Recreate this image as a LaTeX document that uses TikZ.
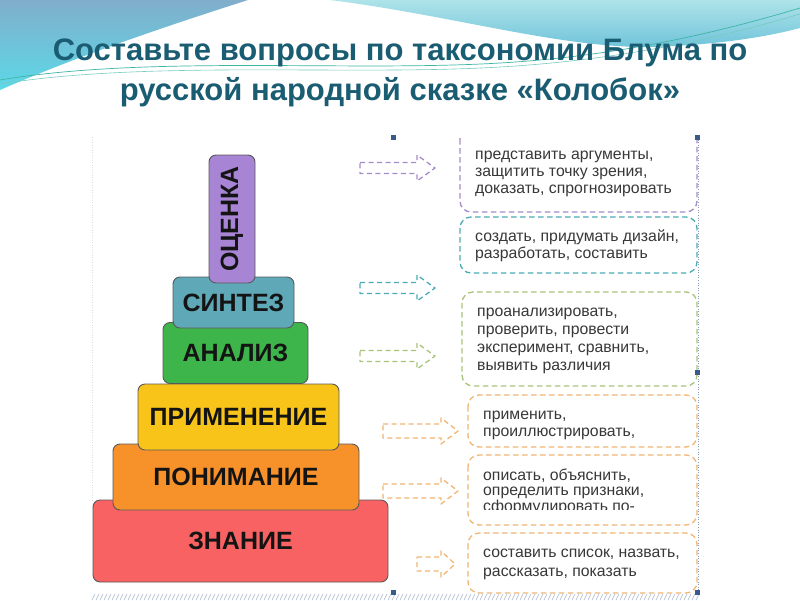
\documentclass[tikz,border=0pt]{standalone}
\usepackage{fontspec}
\setmainfont{Liberation Sans}
\begin{document}
\begin{tikzpicture}[x=1pt,y=-1pt,
  block/.style={draw=black!65, line width=0.9pt, rounded corners=7pt, inner sep=0pt},
  blocklabel/.style={font=\bfseries\fontsize{25}{25}\selectfont, text=black!92},
  tbox/.style={dashed, dash pattern=on 5.5pt off 3.5pt, line width=1.3pt, rounded corners=11pt},
  ttext/.style={text=black!78, align=left, anchor=base west, inner sep=0pt},
  darrow/.style={dashed, dash pattern=on 5pt off 3.5pt, line width=1.3pt, line join=round}
]
\definecolor{titlec}{HTML}{1A5C72}
\definecolor{bgA}{HTML}{80AECB}
\definecolor{bgB}{HTML}{5CD9E8}
\definecolor{bgC}{HTML}{AEE3E9}
\definecolor{bgD}{HTML}{6FC3DA}
\definecolor{wline}{HTML}{3DB5A5}
\definecolor{cpur}{HTML}{A884D4}
\definecolor{cteal}{HTML}{5FA8B8}
\definecolor{cgreen}{HTML}{3DB54A}
\definecolor{cyel}{HTML}{F9C41A}
\definecolor{cora}{HTML}{F7922A}
\definecolor{cred}{HTML}{F96262}
\definecolor{dpur}{HTML}{A58BC8}
\definecolor{dteal}{HTML}{4AABB5}
\definecolor{dgreen}{HTML}{A9C47A}
\definecolor{dora}{HTML}{F0B672}
\definecolor{handle}{HTML}{3A5A8A}
\useasboundingbox (0,0) rectangle (800,600);
\fill[white] (0,0) rectangle (800,600);
% background waves
\shade[top color=bgA, bottom color=bgB] (0,0) -- (248,0) .. controls (170,25) and (80,55) .. (0,90) -- cycle;
\shade[top color=bgC, bottom color=bgD] (330,0) .. controls (450,15) and (560,48) .. (650,47) .. controls (720,45) and (770,36) .. (800,28) -- (800,0) -- cycle;
\draw[wline, line width=0.7pt] (0,80) .. controls (150,55) and (350,72) .. (500,63) .. controls (620,56) and (720,32) .. (800,8);
\draw[wline!70, line width=0.6pt] (0,84) .. controls (150,60) and (350,76) .. (500,67) .. controls (620,60) and (720,38) .. (800,14);
% title
\node[font=\bfseries\fontsize{31}{40}\selectfont, text=titlec, align=center] (title) at (400,73)
  {Составьте вопросы по таксономии Блума по\\русской народной сказке «Колобок»};
% image frame artifacts
\draw[handle!60, line width=0.6pt, dotted] (698,137) -- (698,592);
\draw[black!12, line width=0.5pt, dotted] (92,137) -- (92,500);
\foreach \i in {0,...,151} {\draw[handle!45, line width=0.5pt] (92+4*\i,600) -- (95+4*\i,594);}
% pyramid
\node[block, fill=cred, minimum width=295pt, minimum height=82pt] (znanie) at (240.5,541) {};
\node[blocklabel] at (znanie.center) {ЗНАНИЕ};
\node[block, fill=cora, minimum width=246pt, minimum height=66pt] (ponim) at (236,477) {};
\node[blocklabel] at (ponim.center) {ПОНИМАНИЕ};
\node[block, fill=cyel, minimum width=201pt, minimum height=66pt] (prim) at (238.5,417) {};
\node[blocklabel] at (prim.center) {ПРИМЕНЕНИЕ};
\node[block, fill=cgreen, minimum width=145pt, minimum height=61pt] (analiz) at (235.5,353) {};
\node[blocklabel] at (analiz.center) {АНАЛИЗ};
\node[block, fill=cteal, minimum width=121pt, minimum height=51pt] (sintez) at (233.5,302.5) {};
\node[blocklabel] at (sintez.center) {СИНТЕЗ};
\node[block, fill=cpur, minimum width=46pt, minimum height=128pt] (ocenka) at (232,219) {};
\node[blocklabel, rotate=90] at (ocenka.center) {ОЦЕНКА};
% arrows
\draw[darrow, dpur] (360,162.5) -- (417,162.5) -- (417,155) -- (435,168) -- (417,181) -- (417,173.5) -- (360,173.5) -- cycle;
\draw[darrow, dteal] (360,282.5) -- (417,282.5) -- (417,275) -- (435,288) -- (417,301) -- (417,293.5) -- (360,293.5) -- cycle;
\draw[darrow, dgreen] (360,350.5) -- (417,350.5) -- (417,343) -- (435,356) -- (417,369) -- (417,361.5) -- (360,361.5) -- cycle;
\draw[darrow, dora] (383,424) -- (441,424) -- (441,418) -- (458,431) -- (441,444) -- (441,438) -- (383,438) -- cycle;
\draw[darrow, dora] (383,484) -- (441,484) -- (441,478) -- (458,491) -- (441,504) -- (441,498) -- (383,498) -- cycle;
\draw[darrow, dora] (417,557) -- (441,557) -- (441,551) -- (455,564) -- (441,577) -- (441,571) -- (417,571) -- cycle;
% text boxes
\begin{scope}
\clip (440,138) rectangle (710,230);
\draw[tbox, dpur] (460,128) rectangle (697,212);
\end{scope}
\draw[tbox, dteal] (460,217) rectangle (697,273);
\draw[tbox, dgreen] (462,292) rectangle (697,386);
\draw[tbox, dora] (468,395) rectangle (697,447);
\draw[tbox, dora] (468,455) rectangle (697,525);
\draw[tbox, dora] (468,533) rectangle (697,593);
\node[ttext, font=\fontsize{15.8}{17}\selectfont] (t1) at (475,193) {представить аргументы,\\защитить точку зрения,\\доказать, спрогнозировать};
\node[ttext, font=\fontsize{15.8}{17}\selectfont] (t2) at (475,258) {создать, придумать дизайн,\\разработать, составить};
\node[ttext, font=\fontsize{15.8}{18.2}\selectfont] (t3) at (477,370.6) {проанализировать,\\проверить, провести\\эксперимент, сравнить,\\выявить различия};
\node[ttext, font=\fontsize{15.8}{17}\selectfont] (t4) at (483,436) {применить,\\проиллюстрировать,};
\begin{scope}
\clip (470,458) rectangle (690,509);
\node[ttext, font=\fontsize{15.8}{15.8}\selectfont] (t5) at (483,511.6) {описать, объяснить,\\определить признаки,\\сформулировать по-};
\end{scope}
\node[ttext, font=\fontsize{15.8}{19}\selectfont] (t6) at (483,576) {составить список, назвать,\\рассказать, показать};
% handles
\foreach \p in {(393,137),(697,137),(697,372),(393,592),(697,592)} {\fill[handle] \p ++(-2.5,-2.5) rectangle ++(5,5);}
\end{tikzpicture}
\end{document}
